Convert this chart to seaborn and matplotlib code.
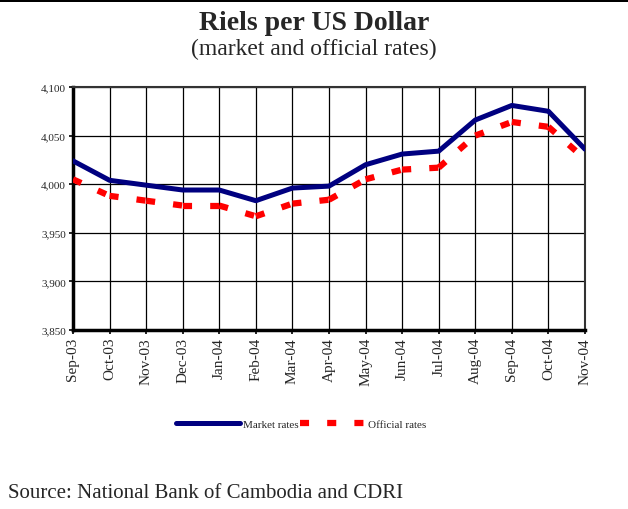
import matplotlib
matplotlib.use("Agg")
import matplotlib.pyplot as plt
import seaborn as sns
import pandas as pd
from matplotlib.lines import Line2D
from matplotlib.patches import Rectangle

months = ["Sep-03", "Oct-03", "Nov-03", "Dec-03", "Jan-04", "Feb-04", "Mar-04",
          "Apr-04", "May-04", "Jun-04", "Jul-04", "Aug-04", "Sep-04", "Oct-04", "Nov-04"]
market_rates = [4024, 4004, 3999, 3994, 3994, 3983, 3996, 3998, 4020, 4031, 4034, 4066, 4081, 4075, 4036]
official_rates = [4005, 3988, 3983, 3978, 3978, 3967, 3980, 3984, 4005, 4015, 4017, 4050, 4064, 4059, 4026]
y_ticks = [3850, 3900, 3950, 4000, 4050, 4100]

sns.set_theme(style="white")
plt.rcParams['font.family'] = ['Liberation Serif', 'DejaVu Serif']

n = len(months)
df_market = pd.DataFrame({"x": range(n), "rate": market_rates})
df_official = pd.DataFrame({"x": range(n), "rate": official_rates})

fig = plt.figure(figsize=(6.28, 5.10), dpi=100)
ax = fig.add_axes([0.1162, 0.351, 0.8153, 0.4765])

OFF_LW = 4.5
OFF_DASH = [1.45, 2.9]

sns.lineplot(data=df_market, x="x", y="rate", ax=ax,
             color="#000080", linewidth=3.6, solid_capstyle="round", legend=False, zorder=3)
# official rates drawn segment by segment so the dash pattern restarts at every month
for i in range(n - 1):
    seg = df_official.iloc[i:i + 2]
    sns.lineplot(data=seg, x="x", y="rate", ax=ax, color="#ff0000",
                 linewidth=OFF_LW, legend=False, zorder=3)
    ln = ax.lines[-1]
    ln.set_dashes(OFF_DASH)
    ln.set_dash_capstyle("butt")

ax.set_xlim(0, n - 1)
ax.set_ylim(3850, 4100)
ax.set_xticks(range(n))
ax.set_xticklabels(months, rotation=90, fontsize=11)
ax.set_yticks(y_ticks)
ax.set_yticklabels([f"{v:,}" for v in y_ticks], fontsize=8)
ax.set_xlabel("")
ax.set_ylabel("")
ax.grid(True, color="black", linewidth=0.9)
ax.set_axisbelow(True)
for s in ["left", "bottom"]:
    ax.spines[s].set_linewidth(2.5)
    ax.spines[s].set_color("black")
for s in ["top", "right"]:
    ax.spines[s].set_linewidth(1.5)
    ax.spines[s].set_color("#333333")
ax.tick_params(axis="both", which="both", direction="out", length=3, width=1.2,
               color="black", left=True, bottom=True, pad=2)

h_off = Line2D([0], [0], color="#ff0000", linewidth=OFF_LW)
h_off.set_dashes(OFF_DASH)
h_off.set_dash_capstyle("butt")
handles = [Line2D([0], [0], color="#000080", linewidth=3.6, solid_capstyle="round"), h_off]
fig.legend(handles, ["Market rates", "Official rates"], loc="center",
           bbox_to_anchor=(0.479, 0.167), ncol=2, frameon=False, fontsize=8,
           handlelength=5.8, handletextpad=0.3, columnspacing=0.1)

fig.text(0.5, 1 - 30 / 510, "Riels per US Dollar", ha="center", va="baseline",
         fontsize=20, fontweight="bold")
fig.text(0.5, 1 - 55 / 510, "(market and official rates)", ha="center", va="baseline",
         fontsize=17)
fig.text(0.012, 1 - 498 / 510, "Source: National Bank of Cambodia and CDRI", ha="left",
         va="baseline", fontsize=15)
fig.add_artist(Rectangle((0, 0.994), 1, 0.006, transform=fig.transFigure,
                         color="black", linewidth=0))

fig.savefig("out.png", dpi=100)
